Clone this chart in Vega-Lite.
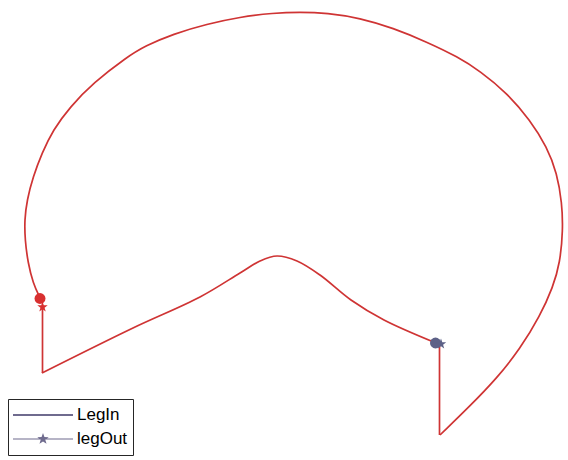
{
  "$schema": "https://vega.github.io/schema/vega-lite/v6.json",
  "width": 568,
  "height": 460,
  "padding": 0,
  "autosize": {"type": "none"},
  "background": "white",
  "config": {"view": {"stroke": null}},
  "datasets": {
    "arc": [
      {"i": 0, "x": 440, "y": 435},
      {"i": 1, "x": 470, "y": 406},
      {"i": 2, "x": 497, "y": 378},
      {"i": 3, "x": 520, "y": 349},
      {"i": 4, "x": 540, "y": 316},
      {"i": 5, "x": 553, "y": 287},
      {"i": 6, "x": 560, "y": 263},
      {"i": 7, "x": 563, "y": 230},
      {"i": 8, "x": 562, "y": 203},
      {"i": 9, "x": 557, "y": 173},
      {"i": 10, "x": 547, "y": 147},
      {"i": 11, "x": 530, "y": 120},
      {"i": 12, "x": 507, "y": 93},
      {"i": 13, "x": 480, "y": 71},
      {"i": 14, "x": 458, "y": 57},
      {"i": 15, "x": 427, "y": 42},
      {"i": 16, "x": 393, "y": 28},
      {"i": 17, "x": 360, "y": 18},
      {"i": 18, "x": 327, "y": 13},
      {"i": 19, "x": 300, "y": 12},
      {"i": 20, "x": 273, "y": 13},
      {"i": 21, "x": 240, "y": 17},
      {"i": 22, "x": 207, "y": 24},
      {"i": 23, "x": 173, "y": 34},
      {"i": 24, "x": 145, "y": 46},
      {"i": 25, "x": 127, "y": 57},
      {"i": 26, "x": 93, "y": 83},
      {"i": 27, "x": 70, "y": 107},
      {"i": 28, "x": 53, "y": 130},
      {"i": 29, "x": 42, "y": 153},
      {"i": 30, "x": 33, "y": 177},
      {"i": 31, "x": 27, "y": 200},
      {"i": 32, "x": 24.5, "y": 220},
      {"i": 33, "x": 25, "y": 240},
      {"i": 34, "x": 28, "y": 263},
      {"i": 35, "x": 33, "y": 283},
      {"i": 36, "x": 40, "y": 298}
    ],
    "mid": [
      {"i": 0, "x": 42, "y": 373},
      {"i": 1, "x": 133, "y": 328},
      {"i": 2, "x": 200, "y": 297},
      {"i": 3, "x": 240, "y": 273},
      {"i": 4, "x": 260, "y": 261},
      {"i": 5, "x": 277, "y": 256},
      {"i": 6, "x": 297, "y": 261},
      {"i": 7, "x": 320, "y": 275},
      {"i": 8, "x": 351, "y": 300},
      {"i": 9, "x": 384, "y": 320},
      {"i": 10, "x": 436, "y": 343}
    ],
    "vert": [
      {"seg": "A", "i": 0, "x": 42.5, "y": 307},
      {"seg": "A", "i": 1, "x": 42.5, "y": 373},
      {"seg": "B", "i": 0, "x": 439.5, "y": 344},
      {"seg": "B", "i": 1, "x": 439.5, "y": 435}
    ],
    "markers": [
      {"x": 40, "y": 298.5, "kind": "circle", "group": "left"},
      {"x": 42.5, "y": 307, "kind": "star", "group": "left"},
      {"x": 435.5, "y": 343, "kind": "circle", "group": "right"},
      {"x": 441, "y": 344, "kind": "star", "group": "right"}
    ],
    "legend": [
      {"series": "LegIn"},
      {"series": "legOut"}
    ]
  },
  "encoding": {
    "x": {"field": "x", "type": "quantitative", "scale": {"domain": [0, 568], "nice": false, "zero": false}, "axis": null},
    "y": {"field": "y", "type": "quantitative", "scale": {"domain": [0, 460], "nice": false, "zero": false, "reverse": true}, "axis": null}
  },
  "resolve": {
    "scale": {"shape": "independent", "color": "independent", "size": "independent"},
    "legend": {"shape": "independent", "color": "independent", "size": "independent"}
  },
  "layer": [
    {
      "data": {"name": "arc"},
      "mark": {"type": "line", "interpolate": "basis", "color": "#cf3434", "strokeWidth": 1.7},
      "encoding": {"order": {"field": "i", "type": "quantitative"}}
    },
    {
      "data": {"name": "mid"},
      "mark": {"type": "line", "interpolate": "catmull-rom", "color": "#cf3434", "strokeWidth": 1.7},
      "encoding": {"order": {"field": "i", "type": "quantitative"}}
    },
    {
      "data": {"name": "vert"},
      "mark": {"type": "line", "color": "#cf3434", "strokeWidth": 1.7},
      "encoding": {"detail": {"field": "seg"}, "order": {"field": "i", "type": "quantitative"}}
    },
    {
      "data": {"name": "markers"},
      "mark": {"type": "point", "filled": true, "opacity": 1},
      "encoding": {
        "shape": {"field": "kind", "type": "nominal", "scale": {"domain": ["circle", "star"], "range": ["circle", "M0,-1L0.235,-0.324L0.951,-0.309L0.38,0.124L0.588,0.809L0,0.4L-0.588,0.809L-0.38,0.124L-0.951,-0.309L-0.235,-0.324Z"]}, "legend": null},
        "color": {"field": "group", "type": "nominal", "scale": {"domain": ["left", "right"], "range": ["#d83030", "#5d6187"]}, "legend": null},
        "size": {"field": "kind", "type": "nominal", "scale": {"domain": ["circle", "star"], "range": [120, 120]}, "legend": null}
      }
    },
    {
      "data": {"name": "legend"},
      "mark": {"type": "point", "filled": true, "color": "#6f6b8e", "opacity": 0},
      "encoding": {
        "x": {"value": 0},
        "y": {"value": 0},
        "shape": {
          "field": "series",
          "type": "nominal",
          "scale": {"domain": ["LegIn", "legOut"], "range": ["M-1,-0.034H1V0.034H-1Z", "M-1,-0.017H1V0.017H-1ZM0,-0.2L0.047,-0.065L0.19,-0.062L0.076,0.025L0.118,0.162L0,0.08L-0.118,0.162L-0.076,0.025L-0.19,-0.062L-0.047,-0.065Z"]},
          "legend": {
            "title": null,
            "orient": "none",
            "legendX": 8,
            "legendY": 399,
            "strokeColor": "#262626",
            "fillColor": "white",
            "padding": 5,
            "cornerRadius": 0,
            "symbolSize": 3600,
            "clipHeight": 22,
            "labelFont": "Liberation Sans",
            "labelFontSize": 17,
            "labelColor": "black",
            "labelOffset": 4,
            "symbolOffset": 0,
            "symbolOpacity": 1,
            "symbolFillColor": "#6f6b8e",
            "symbolStrokeWidth": 0
          }
        }
      }
    }
  ]
}
